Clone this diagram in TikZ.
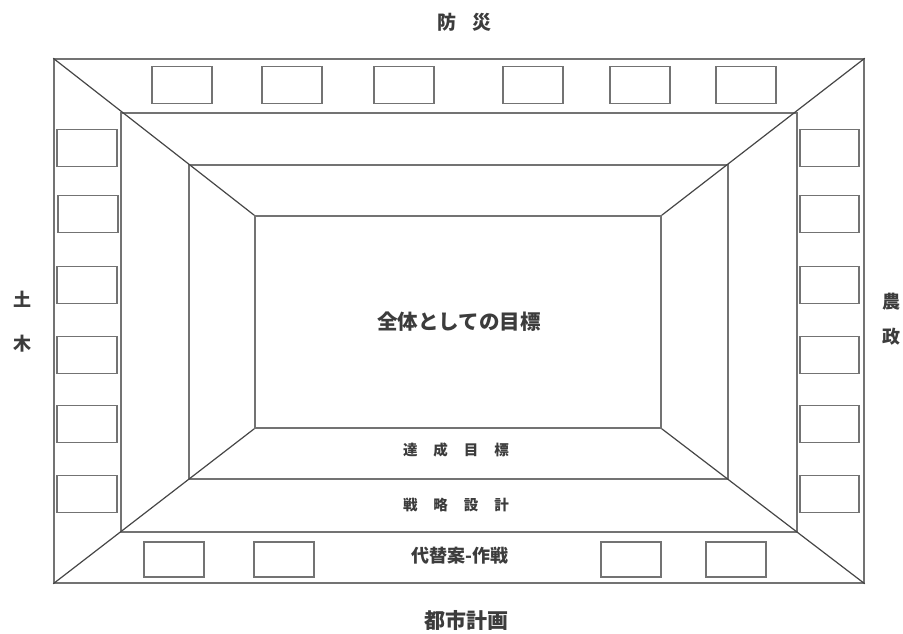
\documentclass[tikz,border=0pt]{standalone}
\usepackage{fontspec}
\newfontfamily\jp{Noto Sans CJK JP}
\definecolor{frameline}{RGB}{115,115,115}
\definecolor{diagline}{RGB}{70,70,70}
\definecolor{txt}{RGB}{60,60,60}
\newcommand\gapA{\hspace{16pt}}
\newcommand\gapB{\hspace{16pt}}
\begin{document}
\begin{tikzpicture}[x=1pt,y=-1pt,
  frame/.style={draw=frameline,line width=1.5pt,inner sep=0pt,rectangle},
  smallbox/.style={draw=frameline,line width=1.4pt,inner sep=0pt,minimum width=60pt,minimum height=37pt},
  diag/.style={draw=diagline,line width=1.2pt},
  lbl/.style={text=txt,inner sep=0pt,font=\jp}]
\useasboundingbox (0,0) rectangle (903,633);
\fill[white] (0,0) rectangle (903,633);
% frames
\node[frame,minimum width=810pt,minimum height=524pt] (f1) at (459,321) {};
\node[frame,minimum width=676pt,minimum height=419pt] (f2) at (459,322.5) {};
\node[frame,minimum width=539pt,minimum height=314pt] (f3) at (458.5,322) {};
\node[frame,minimum width=406pt,minimum height=212pt] (f4) at (458,322) {};
% diagonals
\draw[diag] (f1.north west) -- (f4.north west);
\draw[diag] (f1.north east) -- (f4.north east);
\draw[diag] (f1.south west) -- (f4.south west);
\draw[diag] (f1.south east) -- (f4.south east);
% top boxes
\node[smallbox] (t1) at (182,85) {};
\node[smallbox] (t2) at (292,85) {};
\node[smallbox] (t3) at (404,85) {};
\node[smallbox] (t4) at (533,85) {};
\node[smallbox] (t5) at (640,85) {};
\node[smallbox] (t6) at (746,85) {};
% left boxes
\node[smallbox] (l1) at (87,148) {};
\node[smallbox] (l2) at (88,214) {};
\node[smallbox] (l3) at (87,285) {};
\node[smallbox] (l4) at (87,355) {};
\node[smallbox] (l5) at (87,424) {};
\node[smallbox] (l6) at (87,494) {};
% right boxes
\node[smallbox,minimum width=59pt] (r1) at (829.5,148) {};
\node[smallbox,minimum width=59pt] (r2) at (829.5,214) {};
\node[smallbox,minimum width=59pt] (r3) at (829.5,285) {};
\node[smallbox,minimum width=59pt] (r4) at (829.5,355) {};
\node[smallbox,minimum width=59pt] (r5) at (829.5,424) {};
\node[smallbox,minimum width=59pt] (r6) at (829.5,494) {};
% bottom boxes
\node[smallbox,minimum height=35pt] (b1) at (174,559.5) {};
\node[smallbox,minimum height=35pt] (b2) at (284,559.5) {};
\node[smallbox,minimum height=35pt] (b3) at (631,559.5) {};
\node[smallbox,minimum height=35pt] (b4) at (736,559.5) {};
% labels
\node[lbl,font=\jp\bfseries\fontsize{19}{19}\selectfont] (top) at (464,22) {防\gapB 災};
\node[lbl,font=\jp\bfseries\fontsize{18}{18}\selectfont] (lw1) at (22,299) {土};
\node[lbl,font=\jp\bfseries\fontsize{18}{18}\selectfont] (lw2) at (22,344) {木};
\node[lbl,font=\jp\bfseries\fontsize{18}{18}\selectfont] (re1) at (891,302) {農};
\node[lbl,font=\jp\bfseries\fontsize{18}{18}\selectfont] (re2) at (891,337) {政};
\node[lbl,font=\jp\bfseries\fontsize{20.5}{21}\selectfont] (center) at (459,322) {全体としての目標};
\node[lbl,font=\jp\bfseries\fontsize{14.5}{15}\selectfont] (goal) at (456,450) {達\gapA 成\gapA 目\gapA 標};
\node[lbl,font=\jp\bfseries\fontsize{14.5}{15}\selectfont] (strat) at (456,505) {戦\gapA 略\gapA 設\gapA 計};
\node[lbl,font=\jp\bfseries\fontsize{18}{18}\selectfont] (alt) at (460,556) {代替案-作戦};
\node[lbl,font=\jp\bfseries\fontsize{21}{21}\selectfont] (bottom) at (466,620) {都市計画};
\end{tikzpicture}
\end{document}
